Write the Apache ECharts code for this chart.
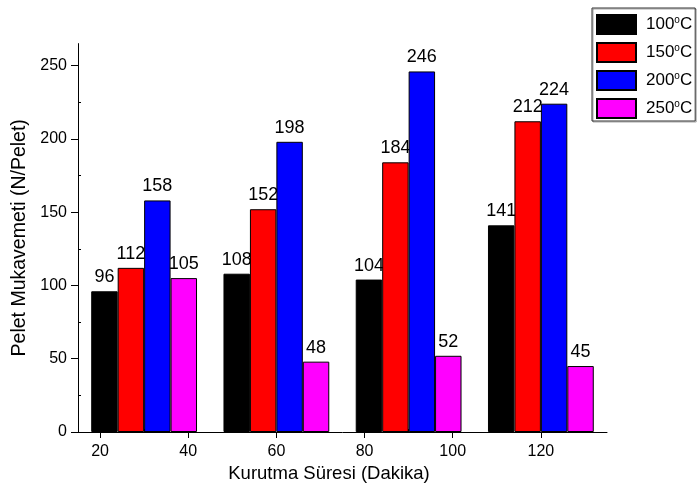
<!DOCTYPE html>
<html>
<head>
<meta charset="utf-8">
<script src="https://cdn.jsdelivr.net/npm/echarts@6/dist/echarts.min.js"></script>
<style>
  html, body { margin: 0; padding: 0; background: #ffffff; }
  #chart { width: 699px; height: 492px; }
</style>
</head>
<body>
<div id="chart"></div>
<script>
// Drying time in minutes: centre of each bar group
const dryingTimes = [30, 60, 90, 120];
// Drying temperatures, one bar series each
const temperatures = ['100°C', '150°C', '200°C', '250°C'];
// Pellet strength (N/pellet) per temperature, in drying-time order
const strength100 = [96, 108, 104, 141];
const strength150 = [112, 152, 184, 212];
const strength200 = [158, 198, 246, 224];
const strength250 = [105, 48, 52, 45];
// Tick values
const xTicks = [20, 40, 60, 80, 100, 120];
const xMinorTicks = [30, 50, 70, 90, 110, 130];
const yTicks = [0, 50, 100, 150, 200, 250];
const yMinorTicks = [25, 75, 125, 175, 225];

const strengths = [strength100, strength150, strength200, strength250];
const colors = ['#000000', '#ff0000', '#0000ff', '#ff00ff'];
const FONT = '"Liberation Sans", Arial, sans-serif';

const chart = echarts.init(document.getElementById('chart'), null, { renderer: 'canvas' });

const axisLine = { show: true, onZero: false, lineStyle: { color: '#000', width: 1 } };

chart.setOption({
  animation: false,
  backgroundColor: '#ffffff',
  grid: { left: 78, right: 92, top: 43.6, bottom: 60 },
  legend: {
    orient: 'vertical',
    left: 592,
    top: 8,
    icon: 'rect',
    itemWidth: 39,
    itemHeight: 19,
    itemGap: 7,
    padding: [6, 3, 2, 4],
    borderColor: '#333',
    borderWidth: 1,
    shadowColor: 'rgba(0,0,0,0.35)',
    shadowOffsetX: 1,
    shadowOffsetY: 1,
    data: temperatures,
    formatter: (name) => name.replace('°C', '{s|o}C'),
    textStyle: {
      fontFamily: FONT,
      fontSize: 17,
      lineHeight: 19,
      color: '#000',
      padding: [0, 0, 0, 5],
      rich: { s: { fontFamily: FONT, fontSize: 10, lineHeight: 12, verticalAlign: 'top', color: '#000' } }
    }
  },
  xAxis: [
    {
      type: 'value', min: 15, max: 135, position: 'bottom',
      axisLine: axisLine,
      axisTick: { show: true, inside: false, length: 6, customValues: xTicks, lineStyle: { color: '#000' } },
      axisLabel: { customValues: xTicks, margin: 12, fontSize: 16, color: '#000', fontFamily: FONT },
      splitLine: { show: false },
      name: 'Kurutma Süresi (Dakika)',
      nameLocation: 'middle',
      nameGap: 31,
      nameTextStyle: { fontSize: 18.5, color: '#000', fontFamily: FONT, padding: [0, 27, 0, 0] }
    },
    {
      // minor ticks between the labelled ones (this overlay axis draws them outward with inside: true)
      type: 'value', min: 15, max: 135, position: 'bottom', offset: 0,
      axisLine: { show: false, onZero: false },
      axisTick: { show: true, inside: true, length: 3, customValues: xMinorTicks, lineStyle: { color: '#000' } },
      axisLabel: { show: false },
      splitLine: { show: false }
    }
  ],
  yAxis: [
    {
      type: 'value', min: 0, max: 265, position: 'left',
      axisLine: axisLine,
      axisTick: { show: true, inside: false, length: 7, customValues: yTicks, lineStyle: { color: '#000' } },
      axisLabel: { customValues: yTicks, margin: 11, fontSize: 16, color: '#000', fontFamily: FONT },
      splitLine: { show: false },
      name: 'Pelet Mukavemeti (N/Pelet)',
      nameLocation: 'middle',
      nameGap: 43,
      nameTextStyle: { fontSize: 19.5, color: '#000', fontFamily: FONT }
    },
    {
      // minor ticks between the labelled ones
      type: 'value', min: 0, max: 265, position: 'left', offset: 0,
      axisLine: { show: false, onZero: false },
      axisTick: { show: true, inside: true, length: 3, customValues: yMinorTicks, lineStyle: { color: '#000' } },
      axisLabel: { show: false },
      splitLine: { show: false }
    }
  ],
  series: temperatures.map((name, i) => ({
    name: name,
    type: 'bar',
    xAxisIndex: 0,
    yAxisIndex: 0,
    z: 2 + i,
    barWidth: '20%',
    barGap: '0%',
    data: dryingTimes.map((t, j) => [t, strengths[i][j]]),
    itemStyle: { color: colors[i], borderColor: '#000', borderWidth: 1 },
    label: {
      show: true,
      position: 'top',
      distance: 5,
      fontSize: 18,
      color: '#000',
      fontFamily: FONT
    }
  }))
});
</script>
</body>
</html>
